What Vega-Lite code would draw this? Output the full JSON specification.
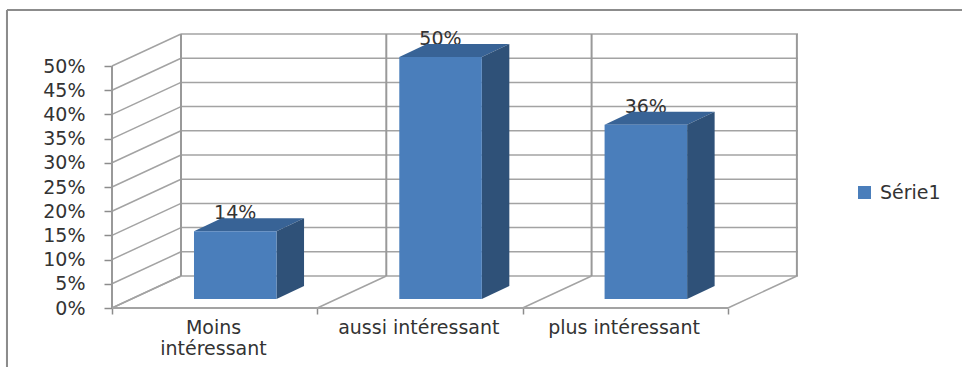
{
"$schema":"https://vega.github.io/schema/vega-lite/v6.json",
"width":686,"height":275,
"autosize":{"type":"none"},
"padding":{"left":112,"top":33,"right":164,"bottom":59},
"background":"white",
"config":{"view":{"stroke":null},"font":"DejaVu Sans"},
"datasets":{
 "bars":[
  {"category":"Moins intéressant","i":0,"value":0.14,"series":"Série1"},
  {"category":"aussi intéressant","i":1,"value":0.50,"series":"Série1"},
  {"category":"plus intéressant","i":2,"value":0.36,"series":"Série1"}
 ],
 "levels":[{"pct":0},{"pct":0.05},{"pct":0.1},{"pct":0.15},{"pct":0.2},{"pct":0.25},{"pct":0.3},{"pct":0.35},{"pct":0.4},{"pct":0.45},{"pct":0.5}],
 "slots":[{"i":0},{"i":1},{"i":2},{"i":3}]
},
"layer":[
 {"data":{"name":"levels"},
  "mark":{"type":"rule","color":"#A3A3A3","strokeWidth":1.5,"yOffset":-32},
  "encoding":{
   "x":{"datum":0.336,"type":"quantitative",
     "scale":{"domain":[0,3.3415],"nice":false,"zero":false},
     "axis":{"title":null,"values":[0,1,2,3],"tickCount":4,"domain":false,"grid":false,"tickSize":6,"tickColor":"#8C8C8C","tickWidth":1.5,
       "labelExpr":"datum.value==0?['Moins','intéressant']:datum.value==1?'aussi intéressant':datum.value==2?'plus intéressant':''",
       "labelOffset":101,"labelOverlap":false,"labelBound":false,"labelFlush":false,"labelFontSize":19,"labelColor":"#333333","labelPadding":4,"labelLineHeight":21,"labelBaseline":"top"}},
   "x2":{"datum":3.3415},
   "y":{"field":"pct","type":"quantitative",
     "scale":{"domain":[0,0.5682],"nice":false,"zero":false},
     "axis":{"title":null,"values":[0,0.05,0.1,0.15,0.2,0.25,0.3,0.35,0.4,0.45,0.5],"tickCount":11,"format":".0%","domain":false,"grid":false,"tickSize":8,"tickColor":"#8C8C8C","tickWidth":1.5,"labelFontSize":19,"labelColor":"#333333","labelPadding":19,"labelOverlap":false,"labelBound":false,"labelFlush":false}}
  }},
 {"data":{"name":"levels"},
  "mark":{"type":"rule","color":"#A3A3A3","strokeWidth":1.5,"x2Offset":69,"y2Offset":-32},
  "encoding":{
   "x":{"datum":0,"type":"quantitative"},
   "x2":{"datum":0},
   "y":{"field":"pct","type":"quantitative"},
   "y2":{"field":"pct"}
  }},
 {"data":{"name":"slots"},
  "mark":{"type":"rule","color":"#A3A3A3","strokeWidth":1.5,"x2Offset":69,"y2Offset":-32},
  "encoding":{
   "x":{"field":"i","type":"quantitative"},
   "x2":{"field":"i"},
   "y":{"datum":0,"type":"quantitative"},
   "y2":{"datum":0}
  }},
 {"data":{"name":"slots"},
  "mark":{"type":"rule","color":"#999999","strokeWidth":2,"xOffset":69,"yOffset":-32,"y2Offset":-32},
  "encoding":{
   "x":{"field":"i","type":"quantitative"},
   "y":{"datum":0,"type":"quantitative"},
   "y2":{"datum":0.5}
  }},
 {"data":{"name":"slots"},
  "mark":{"type":"rule","color":"#999999","strokeWidth":2},
  "encoding":{
   "x":{"datum":0,"type":"quantitative"},
   "y":{"datum":0,"type":"quantitative"},
   "y2":{"datum":0.5}
  }},
 {"data":{"name":"slots"},
  "mark":{"type":"rule","color":"#A3A3A3","strokeWidth":1.5},
  "encoding":{
   "x":{"datum":0,"type":"quantitative"},
   "x2":{"datum":3},
   "y":{"datum":0,"type":"quantitative"}
  }},
 {"data":{"name":"slots"},
  "mark":{"type":"rule","color":"#8C8C8C","strokeWidth":2},
  "encoding":{
   "x":{"datum":-0.5115,"type":"quantitative"},
   "y":{"datum":-0.1219,"type":"quantitative"},
   "y2":{"datum":0.6157}
  }},
 {"data":{"name":"slots"},
  "mark":{"type":"rule","color":"#8C8C8C","strokeWidth":2},
  "encoding":{
   "x":{"datum":-0.5115,"type":"quantitative"},
   "x2":{"datum":4.14},
   "y":{"datum":0.6157,"type":"quantitative"}
  }},
 {"data":{"name":"bars"},
  "transform":[{"calculate":"datum.i+0.6","as":"center"}],
  "mark":{"type":"text","fontSize":19,"color":"#333333","dy":-21,"baseline":"alphabetic","align":"center"},
  "encoding":{
   "x":{"field":"center","type":"quantitative"},
   "y":{"field":"value","type":"quantitative"},
   "text":{"field":"value","type":"quantitative","format":".0%"}
  }},
 {"data":{"name":"bars"},
  "transform":[{"calculate":"[0,1]","as":"depth"},{"flatten":["depth"]},
   {"calculate":"datum.i+0.3994+datum.depth*0.134","as":"x0"},
   {"calculate":"datum.x0+0.402","as":"x1"},
   {"calculate":"datum.value+0.0186+datum.depth*0.0269","as":"top"}],
  "mark":{"type":"area","orient":"horizontal","color":"#386396"},
  "encoding":{
   "detail":{"field":"category"},
   "x":{"field":"x0","type":"quantitative"},
   "x2":{"field":"x1"},
   "y":{"field":"top","type":"quantitative"}
  }},
 {"data":{"name":"bars"},
  "transform":[{"calculate":"[0,1]","as":"depth"},{"flatten":["depth"]},
   {"calculate":"datum.i+0.8014+datum.depth*0.134","as":"xs"},
   {"calculate":"datum.value+0.0186+datum.depth*0.0269","as":"top"},
   {"calculate":"0.0186+datum.depth*0.0269","as":"base"}],
  "mark":{"type":"area","color":"#2F5178"},
  "encoding":{
   "detail":{"field":"category"},
   "x":{"field":"xs","type":"quantitative"},
   "y":{"field":"top","type":"quantitative"},
   "y2":{"field":"base"}
  }},
 {"data":{"name":"bars"},
  "transform":[
   {"calculate":"datum.i+0.3994","as":"x0"},
   {"calculate":"datum.i+0.8014","as":"x1"},
   {"calculate":"datum.value+0.0186","as":"top"},
   {"calculate":"0.0186","as":"base"}],
  "mark":{"type":"rect"},
  "encoding":{
   "x":{"field":"x0","type":"quantitative"},
   "x2":{"field":"x1"},
   "y":{"field":"top","type":"quantitative"},
   "y2":{"field":"base"},
   "color":{"field":"series","type":"nominal","title":null,
    "scale":{"range":["#4A7EBB"]},
    "legend":{"orient":"none","legendX":743,"legendY":150,"symbolType":"square","symbolSize":170,"labelFontSize":19,"labelColor":"#333333","symbolStrokeWidth":0,"labelOffset":6}}
  }}
]
}
